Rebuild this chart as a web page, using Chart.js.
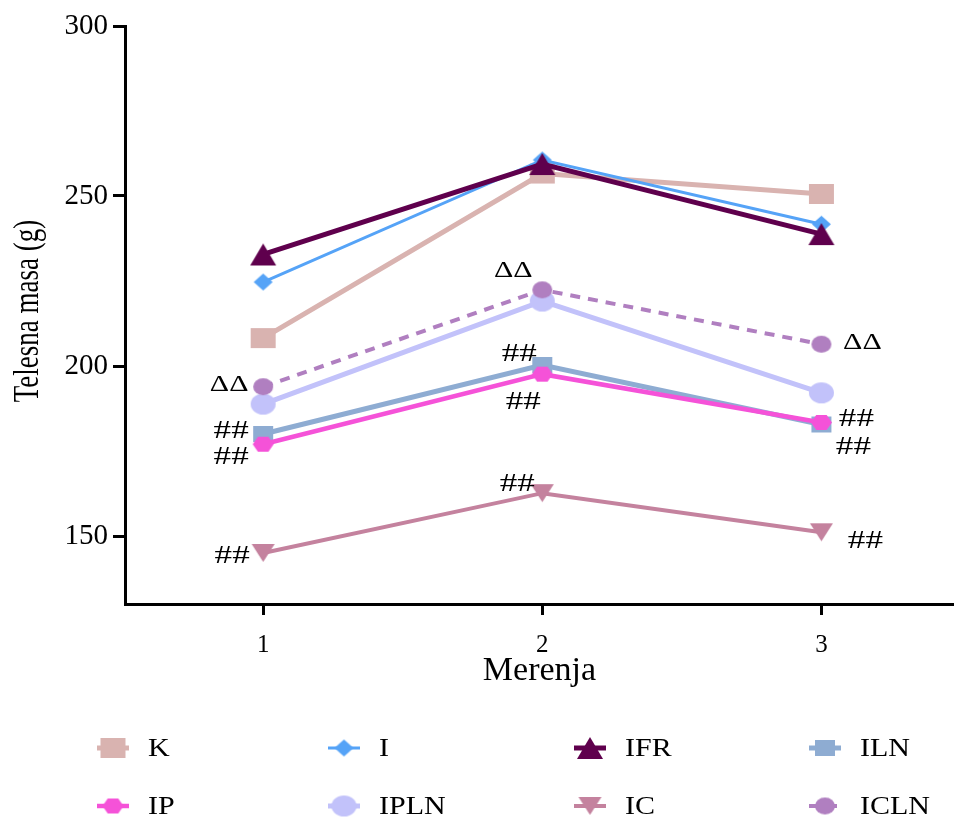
<!DOCTYPE html>
<html>
<head>
<meta charset="utf-8">
<script src="https://cdn.jsdelivr.net/npm/chart.js@4/dist/chart.umd.min.js"></script>
<style>
  html, body { margin: 0; padding: 0; background: #fff; overflow: hidden; }
  #wrap { width: 954px; height: 821px; overflow: hidden; }
  canvas { display: block; }
</style>
</head>
<body>
<div id="wrap"><canvas id="chart" width="954" height="821"></canvas></div>
<script>
// measurement points and y ticks
const measurements = [1, 2, 3];
const yTicks = [150, 200, 250, 300];

// body mass per group (g)
const groups = ['K', 'I', 'IFR', 'ILN', 'IP', 'IPLN', 'IC', 'ICLN'];
const K    = [208.2, 256.6, 250.6];
const I    = [224.7, 260.6, 241.7];
const IFR  = [232.8, 259.4, 238.8];
const ILN  = [180.0, 200.3, 182.8];
const IP   = [177.0, 197.6, 183.4];
const IPLN = [188.8, 219.1, 192.1];
const IC   = [145.0, 162.6, 151.1];
const ICLN = [193.9, 222.4, 206.4];
const series = [K, I, IFR, ILN, IP, IPLN, IC, ICLN];

// significance marks: [group, measurement index, symbol]
const marks = [
  ['ICLN', 0, 'ΔΔ'], ['ILN', 0, '##'], ['IP', 0, '##'], ['IC', 0, '##'],
  ['ICLN', 1, 'ΔΔ'], ['ILN', 1, '##'], ['IP', 1, '##'], ['IC', 1, '##'],
  ['ICLN', 2, 'ΔΔ'], ['IP', 2, '##'], ['ILN', 2, '##'], ['IC', 2, '##']
];

// styling
const SERIF = '"Liberation Serif", "Times New Roman", serif';
const colors = ['#d9b3b0', '#55a3f7', '#5f004d', '#8eacd2', '#f552d8', '#c2c2fa', '#c4829e', '#b07fc0'];
const widths = [5, 3, 5, 5, 4.5, 5, 4, 4];
const dashes = [[], [], [], [], [], [], [], [10, 8]];
const shapes = ['square', 'diamond', 'triUp', 'square', 'hexagon', 'circle', 'triDown', 'circle'];
const sizes = [[25, 20], [19, 17], [26, 22], [20, 16], [21, 15], [25, 21], [23, 18], [20, 17]];
const drawOrder = [2, 1, 0, 6, 5, 4, 7, 3];
const markOffsets = [
  [-34, -2], [-32, -3], [-32, 13], [-31, 3],
  [-29, -19], [-23, -11], [-19, 28], [-25, -9],
  [41, -2], [35, -3], [32, 23], [44, 9]
];

function makeMarker(shape, w, h, color) {
  const c = document.createElement('canvas');
  c.width = w + 2; c.height = h + 2;
  const g = c.getContext('2d');
  const cx = c.width / 2, cy = c.height / 2, a = w / 2, b = h / 2;
  g.fillStyle = color;
  g.beginPath();
  if (shape === 'square') {
    g.rect(cx - a, cy - b, w, h);
  } else if (shape === 'diamond') {
    g.moveTo(cx, cy - b); g.lineTo(cx + a, cy); g.lineTo(cx, cy + b); g.lineTo(cx - a, cy);
  } else if (shape === 'triUp') {
    g.moveTo(cx, cy - b); g.lineTo(cx + a, cy + b); g.lineTo(cx - a, cy + b);
  } else if (shape === 'triDown') {
    g.moveTo(cx - a, cy - b); g.lineTo(cx + a, cy - b); g.lineTo(cx, cy + b);
  } else if (shape === 'hexagon') {
    g.moveTo(cx - a, cy); g.lineTo(cx - a / 2, cy - b); g.lineTo(cx + a / 2, cy - b);
    g.lineTo(cx + a, cy); g.lineTo(cx + a / 2, cy + b); g.lineTo(cx - a / 2, cy + b);
  } else {
    g.ellipse(cx, cy, a, b, 0, 0, Math.PI * 2);
  }
  g.closePath();
  g.fill();
  return c;
}

const markers = groups.map((_, i) => makeMarker(shapes[i], sizes[i][0], sizes[i][1], colors[i]));

function stretchText(ctx, text, x, y, size, sx, align) {
  ctx.save();
  ctx.font = size + 'px ' + SERIF;
  ctx.fillStyle = '#000';
  ctx.textAlign = align || 'center';
  ctx.textBaseline = 'middle';
  ctx.translate(x, y);
  ctx.scale(sx, 1);
  ctx.fillText(text, 0, 0);
  ctx.restore();
}

const extras = {
  id: 'extras',
  afterDatasetsDraw(chart) {
    const ctx = chart.ctx;
    marks.forEach((m, k) => {
      const el = chart.getDatasetMeta(groups.indexOf(m[0])).data[m[1]];
      const off = markOffsets[k];
      if (m[2] === 'ΔΔ') stretchText(ctx, m[2], el.x + off[0], el.y + off[1], 24, 1.25);
      else stretchText(ctx, m[2], el.x + off[0], el.y + off[1], 26, 1.35);
    });
  },
  afterDraw(chart) {
    const ctx = chart.ctx;
    // y axis title
    ctx.save();
    ctx.translate(28, 311);
    ctx.rotate(-Math.PI / 2);
    ctx.scale(1, 1.35);
    ctx.font = '27px ' + SERIF;
    ctx.fillStyle = '#000';
    ctx.textAlign = 'center';
    ctx.textBaseline = 'middle';
    ctx.fillText('Telesna masa (g)', 0, 0);
    ctx.restore();

    // legend
    const colX = [97, 328, 574, 809];
    const rowY = [748, 806];
    groups.forEach((name, i) => {
      const x0 = colX[i % 4], y = rowY[Math.floor(i / 4)];
      ctx.save();
      ctx.strokeStyle = colors[i];
      ctx.lineWidth = widths[i];
      ctx.setLineDash(dashes[i]);
      ctx.beginPath();
      ctx.moveTo(x0, y);
      ctx.lineTo(x0 + 32, y);
      ctx.stroke();
      ctx.restore();
      const mk = markers[i];
      ctx.drawImage(mk, x0 + 16 - mk.width / 2, y - mk.height / 2);
      stretchText(ctx, name, x0 + 51, y + 1, 25, 1.2, 'left');
    });
  }
};

const datasets = groups.map((name, i) => ({
  label: name,
  data: series[i].map((v, j) => ({ x: measurements[j], y: v })),
  borderColor: colors[i],
  backgroundColor: colors[i],
  borderWidth: widths[i],
  borderDash: dashes[i],
  pointStyle: markers[i],
  pointRadius: 12,
  pointHoverRadius: 12,
  tension: 0,
  fill: false,
  clip: false,
  order: drawOrder[i]
}));

const axisGrid = { drawOnChartArea: false, drawTicks: true, lineWidth: 3, color: '#000' };

new Chart(document.getElementById('chart').getContext('2d'), {
  type: 'line',
  data: { datasets },
  options: {
    responsive: false,
    devicePixelRatio: 1,
    animation: false,
    layout: { autoPadding: false, padding: { top: 26, right: 0, bottom: 130, left: 0 } },
    plugins: { legend: { display: false }, tooltip: { enabled: false } },
    scales: {
      x: {
        type: 'linear',
        // axis is cut off by the right edge of the picture
        min: 0.505,
        max: 3.475,
        afterBuildTicks: s => { s.ticks = measurements.map(v => ({ value: v })); },
        afterFit: s => { s.height = 87; s.paddingLeft = 0; s.paddingRight = 0; },
        ticks: { color: '#000', font: { family: SERIF, size: 25 }, padding: 15 },
        grid: Object.assign({ tickLength: 11 }, axisGrid),
        border: { display: true, width: 3, color: '#000' },
        title: { display: true, text: 'Merenja', color: '#000', font: { family: SERIF, size: 34 }, padding: 0 }
      },
      y: {
        type: 'linear',
        min: 130,
        max: 300,
        afterBuildTicks: s => { s.ticks = yTicks.map(v => ({ value: v })); },
        afterFit: s => { s.width = 125; },
        ticks: { color: '#000', font: { family: SERIF, size: 29 }, padding: 5 },
        grid: Object.assign({ tickLength: 12 }, axisGrid),
        border: { display: true, width: 3, color: '#000' }
      }
    }
  },
  plugins: [extras]
});
</script>
</body>
</html>
